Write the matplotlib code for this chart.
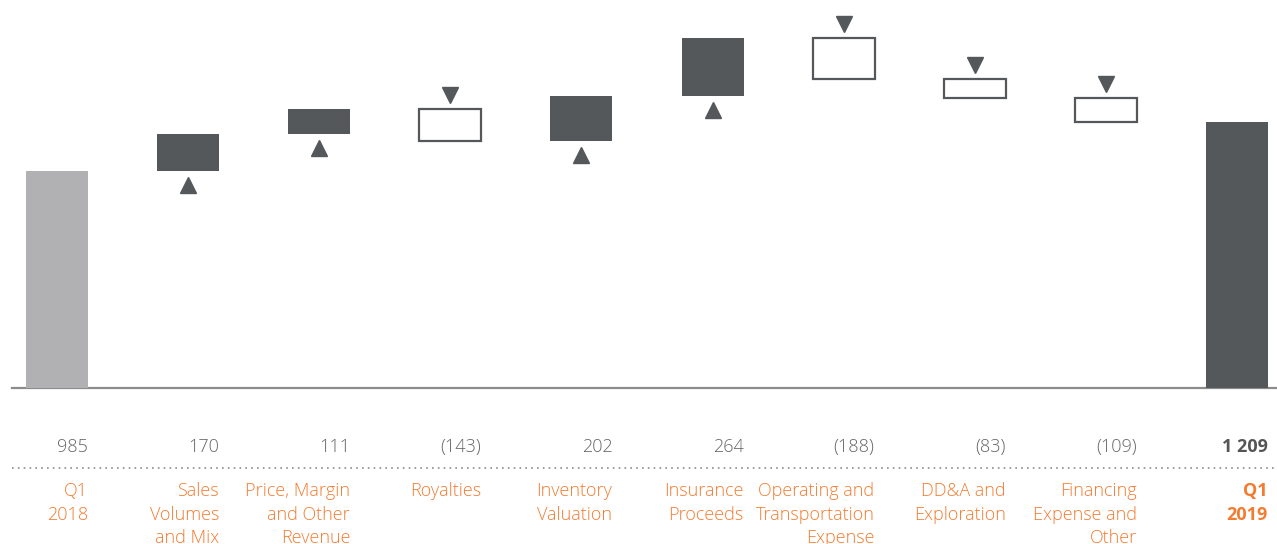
import matplotlib.pyplot as plt
from matplotlib.patches import Rectangle

# ============================================================
# DATA
# ============================================================

labels = ["Q1\n2018", "Sales\nVolumes\nand Mix", "Price, Margin\nand Other\nRevenue",
          "Royalties", "Inventory\nValuation", "Insurance\nProceeds",
          "Operating and\nTransportation\nExpense", "DD&A and\nExploration",
          "Financing\nExpense and\nOther", "Q1\n2019"]
value_text = ["985", "170", "111", "(143)", "202", "264", "(188)", "(83)", "(109)", "1 209"]
start_value = 985
changes = [170, 111, -143, 202, 264, -188, -83, -109]
end_value = 1209

# ============================================================
# STYLE
# ============================================================

DARK = "#54585a"
LIGHT = "#b1b0b2"
ORANGE = "#f47b30"
TEXT_GRAY = "#666666"
LINE_GRAY = "#8c8c8c"

W, H = 1277, 544
BASE_PX = 388          # baseline, pixels from top
PX_PER_UNIT = 0.2203
X0_PX, STEP_PX = 57, 131.1
BAR_W = 62 / STEP_PX

plt.rcParams['font.family'] = ['Open Sans', 'DejaVu Sans']

fig = plt.figure(figsize=(W / 100, H / 100), dpi=100)
ax = fig.add_axes([0, 0, 1, 1])
ax.set_xlim(-X0_PX / STEP_PX, (W - X0_PX) / STEP_PX)
ax.set_ylim(-(H - BASE_PX) / PX_PER_UNIT, BASE_PX / PX_PER_UNIT)
ax.axis("off")

tri_gap = 14 / PX_PER_UNIT   # triangle offset from bar edge

# start bar
ax.bar(0, start_value, width=BAR_W, color=LIGHT, zorder=2)

running = start_value
for i, d in enumerate(changes, start=1):
    lo, hi = sorted([running, running + d])
    if d > 0:
        ax.bar(i, hi - lo, bottom=lo, width=BAR_W, color=DARK, zorder=2)
        ax.plot(i, lo - tri_gap, marker="^", markersize=11, color=DARK,
                linestyle="none", zorder=3)
    else:
        ax.add_patch(Rectangle((i - BAR_W / 2, lo), BAR_W, hi - lo,
                               facecolor="white", edgecolor=DARK,
                               linewidth=1.6, zorder=2))
        ax.plot(i, hi + tri_gap, marker="v", markersize=11, color=DARK,
                linestyle="none", zorder=3)
    running += d

# end bar
ax.bar(len(labels) - 1, end_value, width=BAR_W, color=DARK, zorder=2)

# baseline and dotted separator
trans = ax.get_xaxis_transform()
x_left = (12 - X0_PX) / STEP_PX
x_right = (W - X0_PX) / STEP_PX
ax.plot([x_left, x_right], [0, 0], color=LINE_GRAY, linewidth=1.6, zorder=1)
sep_y = 1 - 468 / H
ax.plot([x_left, x_right], [sep_y, sep_y], transform=trans, color=LINE_GRAY,
        linewidth=1.2, linestyle=(0, (1, 2.5)), clip_on=False)

# values and category labels
val_y = 1 - 447 / H
lab_y = 1 - 482 / H
last = len(labels) - 1
for i, (lab, vt) in enumerate(zip(labels, value_text)):
    xr = i + BAR_W / 2
    weight = "bold" if i == last else "light"
    ax.text(xr, val_y, vt, transform=trans, ha="right", va="center",
            fontsize=13, color="#555555" if i == last else TEXT_GRAY,
            fontweight=weight)
    ax.text(xr, lab_y, lab, transform=trans, ha="right", va="top",
            fontsize=13, color=ORANGE, fontweight=weight, linespacing=1.4)

fig.savefig("out.png", dpi=100)
